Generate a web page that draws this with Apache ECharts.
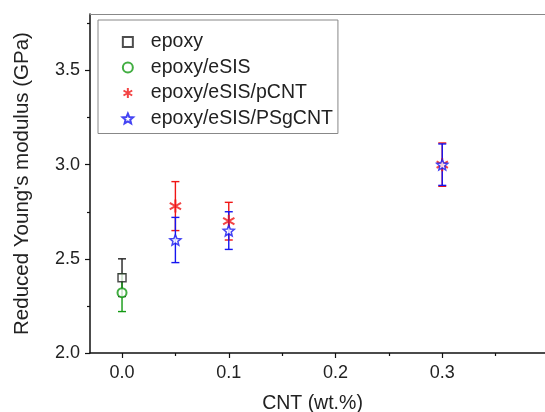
<!DOCTYPE html>
<html>
<head>
<meta charset="utf-8">
<script src="https://cdn.jsdelivr.net/npm/echarts@6/dist/echarts.min.js"></script>
<style>
  html, body { margin: 0; padding: 0; background: #fff; }
  #main { width: 545px; height: 412px; }
</style>
</head>
<body>
<div id="main"></div>
<script>
// 数据
const names = ['epoxy', 'epoxy/eSIS', 'epoxy/eSIS/pCNT', 'epoxy/eSIS/PSgCNT'];
const epoxyX = [0];
const epoxyY = [2.40];
const epoxyErr = [0.10];
const esisX = [0];
const esisY = [2.32];
const esisErr = [0.10];
const pcntX = [0.05, 0.1, 0.3];
const pcntY = [2.78, 2.70, 3.00];
const pcntErr = [0.13, 0.10, 0.115];
const psgX = [0.05, 0.1, 0.3];
const psgY = [2.60, 2.65, 3.00];
const psgErr = [0.12, 0.10, 0.11];
// 刻度
const xTicks = [0, 0.1, 0.2, 0.3];
const xMinorTicks = [0.05, 0.15, 0.25, 0.35];
const yTicks = [2.0, 2.5, 3.0, 3.5];
const yMinorTicks = [2.25, 2.75, 3.25, 3.75];

const colors = ['#222222', '#139a13', '#f01515', '#1515f0'];
const font = 'Liberation Sans, Arial, sans-serif';
const square = 'path://M0,0L100,0L100,100L0,100Z';
const asterisk = 'path://M0,-100L0,100M-87,-50L87,50M-87,50L87,-50';
const star = 'path://M0,-100L26.5,-36.4L95.1,-30.9L42.8,13.9L58.8,80.9L0,45L-58.8,80.9L-42.8,13.9L-95.1,-30.9L-26.5,-36.4Z';

const points = (xs, ys) => xs.map((x, i) => [x, ys[i]]);
const bars = (xs, ys, es) => xs.map((x, i) => [x, ys[i] - es[i], ys[i] + es[i]]);

// 误差线
const errSeries = (xs, ys, es, color) => ({
  type: 'custom',
  xAxisIndex: 0,
  yAxisIndex: 0,
  silent: true,
  data: bars(xs, ys, es),
  renderItem (params, api) {
    const x = api.value(0);
    const lo = api.coord([x, api.value(1)]);
    const hi = api.coord([x, api.value(2)]);
    const w = 4;
    const style = { stroke: color, lineWidth: 1.4 };
    return {
      type: 'group',
      children: [
        { type: 'line', shape: { x1: lo[0], y1: lo[1], x2: hi[0], y2: hi[1] }, style },
        { type: 'line', shape: { x1: lo[0] - w, y1: lo[1], x2: lo[0] + w, y2: lo[1] }, style },
        { type: 'line', shape: { x1: hi[0] - w, y1: hi[1], x2: hi[0] + w, y2: hi[1] }, style }
      ]
    };
  }
});

const dotSeries = (name, xs, ys, symbol, size, itemStyle) => ({
  name,
  type: 'scatter',
  xAxisIndex: 0,
  yAxisIndex: 0,
  symbol,
  symbolSize: size,
  symbolKeepAspect: true,
  data: points(xs, ys),
  itemStyle
});

const axisText = { color: '#222', fontSize: 18, fontFamily: font };
const tickStyle = { color: '#111', width: 1.2 };

const option = {
  animation: false,
  backgroundColor: '#fff',
  grid: { left: 90, right: -4, top: 14, bottom: 59, containLabel: false, outerBoundsMode: 'none' },
  legend: {
    data: names,
    orient: 'vertical',
    left: 98,
    top: 20,
    padding: [12, 5, 5, 23],
    itemGap: 5.5,
    itemWidth: 36,
    itemHeight: 10,
    borderColor: '#888',
    borderWidth: 1,
    backgroundColor: '#fff',
    textStyle: { color: '#222', fontSize: 19.5, fontFamily: font }
  },
  xAxis: [
    {
      type: 'value', position: 'bottom', min: -0.03, max: 0.4,
      splitLine: { show: false },
      axisLine: { onZero: false, lineStyle: { color: '#111', width: 1.5 } },
      axisTick: { inside: false, length: 5, customValues: xTicks, lineStyle: tickStyle },
      axisLabel: { ...axisText, margin: 11, customValues: xTicks, formatter: v => v.toFixed(1) },
      name: 'CNT (wt.%)', nameLocation: 'middle', nameGap: 41,
      nameTextStyle: { ...axisText, fontSize: 19.5, padding: [0, 14, 0, 0] }
    },
    {
      type: 'value', position: 'bottom', min: -0.03, max: 0.4,
      splitLine: { show: false },
      axisLine: { show: false, onZero: false },
      axisTick: { inside: false, length: 3, customValues: xMinorTicks, lineStyle: tickStyle },
      axisLabel: { show: false }
    },
    {
      type: 'value', position: 'top', min: -0.03, max: 0.4,
      splitLine: { show: false },
      axisLine: { onZero: false, lineStyle: { color: '#888', width: 1.2 } },
      axisTick: { show: false },
      axisLabel: { show: false }
    }
  ],
  yAxis: [
    {
      type: 'value', position: 'left', min: 2.0, max: 3.8,
      splitLine: { show: false },
      axisLine: { onZero: false, lineStyle: { color: '#111', width: 1.5 } },
      axisTick: { inside: false, length: 5, customValues: yTicks, lineStyle: tickStyle },
      axisLabel: { ...axisText, margin: 10, customValues: yTicks, formatter: v => v.toFixed(1) },
      name: "Reduced Young's modulus (GPa)", nameLocation: 'middle', nameGap: 57,
      nameTextStyle: { ...axisText, fontSize: 20.5 }
    },
    {
      type: 'value', position: 'left', min: 2.0, max: 3.8,
      splitLine: { show: false },
      axisLine: { show: false, onZero: false },
      axisTick: { inside: false, length: 3, customValues: yMinorTicks, lineStyle: tickStyle },
      axisLabel: { show: false }
    }
  ],
  series: [
    errSeries(epoxyX, epoxyY, epoxyErr, colors[0]),
    dotSeries(names[0], epoxyX, epoxyY, square, 8, { color: '#fff', borderColor: colors[0], borderWidth: 1.5 }),
    errSeries(esisX, esisY, esisErr, colors[1]),
    dotSeries(names[1], esisX, esisY, 'emptyCircle', 9, { color: colors[1], borderWidth: 1.5 }),
    errSeries(pcntX, pcntY, pcntErr, colors[2]),
    dotSeries(names[2], pcntX, pcntY, asterisk, 13, { color: 'none', borderColor: colors[2], borderWidth: 2 }),
    errSeries(psgX, psgY, psgErr, colors[3]),
    dotSeries(names[3], psgX, psgY, star, 11, { color: '#fff', borderColor: colors[3], borderWidth: 1.5 })
  ]
};

const chart = echarts.init(document.getElementById('main'));
chart.setOption(option);
</script>
</body>
</html>
